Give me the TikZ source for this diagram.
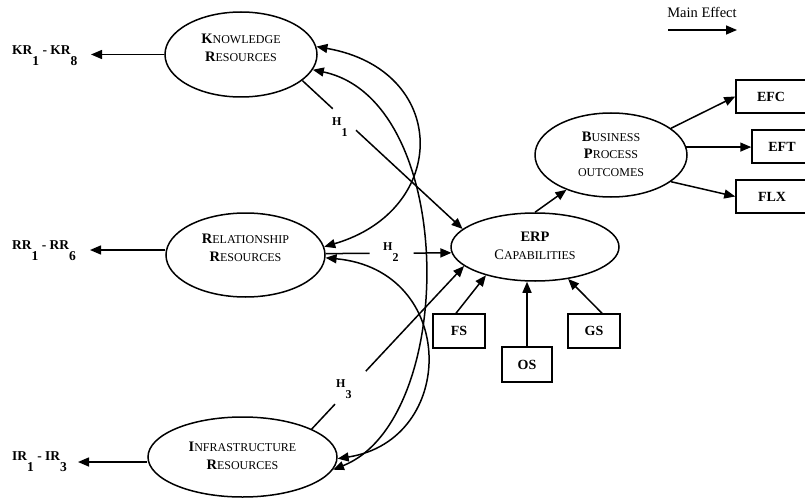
\documentclass[tikz,border=0pt]{standalone}
\usepackage{fontspec}
\setmainfont{Liberation Serif}
\usetikzlibrary{arrows.meta,calc,shapes.geometric}

\newcommand\inib[1]{{\fontsize{14.5}{18}\selectfont\bfseries #1}}
\newcommand\inir[1]{{\fontsize{14.5}{18}\selectfont #1}}
\newcommand\sbx[1]{\lower11pt\hbox{#1}}
\newcommand\twol[2]{\begin{tabular}{@{}c@{}}#1\\#2\end{tabular}}
\newcommand\threel[3]{\begin{tabular}{@{}c@{}}#1\\#2\\#3\end{tabular}}

\begin{document}
\begin{tikzpicture}[x=1pt,y=-1pt,
  ln/.style={line width=1.5pt},
  arr/.style={ln,-{Triangle[length=11pt,width=9pt]}},
  dbl/.style={ln,{Triangle[length=11pt,width=9pt]}-{Triangle[length=11pt,width=9pt]}},
  ell/.style={ellipse, draw, ln, inner sep=0pt, font=\fontsize{12}{18}\selectfont},
  box/.style={rectangle, draw, ln, inner sep=0pt, font=\fontsize{14}{16}\selectfont\bfseries},
  lab/.style={font=\fontsize{13.5}{15}\selectfont\bfseries, inner sep=0pt, anchor=base west},
  hlab/.style={font=\fontsize{12}{13}\selectfont\bfseries, inner sep=0pt, anchor=base west},
]
\useasboundingbox (0,0) rectangle (805,500);
\clip (0,0) rectangle (805,500);

% latent constructs
\node[ell, minimum width=152pt, minimum height=85pt] (kr) at (241,54.5)
  {\raisebox{6pt}[\height][\depth]{\twol{\inib{K}NOWLEDGE}{\inib{R}ESOURCES}}};
\node[ell, minimum width=159pt, minimum height=84pt] (rr) at (245.5,255)
  {\raisebox{6pt}[\height][\depth]{\twol{\inib{R}ELATIONSHIP}{\inib{R}ESOURCES}}};
\node[ell, minimum width=189pt, minimum height=80pt] (ir) at (242.5,457)
  {\twol{\inib{I}NFRASTRUCTURE}{\inib{R}ESOURCES}};
\node[ell, minimum width=168pt, minimum height=68pt] (erp) at (535,247)
  {\twol{\inib{ERP}}{\inir{C}APABILITIES}};
\node[ell, minimum width=152pt, minimum height=84pt, font=\fontsize{12}{17.5}\selectfont] (bpo) at (611,155)
  {\threel{\inib{B}USINESS}{\inib{P}ROCESS}{OUTCOMES}};

% boxes
\node[box, minimum width=70pt, minimum height=33pt] (efc) at (771,96.5) {EFC};
\node[box, minimum width=60pt, minimum height=33pt] (eft) at (782,146.5) {EFT};
\node[box, minimum width=72pt, minimum height=33pt] (flx) at (772,196.5) {FLX};
\node[box, minimum width=52pt, minimum height=34pt] (fs) at (459,331) {FS};
\node[box, minimum width=50pt, minimum height=35pt] (os) at (527,364.5) {OS};
\node[box, minimum width=52pt, minimum height=34pt] (gs) at (594,331) {GS};

% indicator labels
\node[lab] (krl) at (12,55) {KR\sbx{1} - KR\sbx{8}};
\node[lab] (rrl) at (12,249) {RR\sbx{1} - RR\sbx{6}};
\node[lab] (irl) at (12,460) {IR\sbx{1} - IR\sbx{3}};
\coordinate (krt) at (91,54.5);
\coordinate (rrt) at (90,250);
\coordinate (irt) at (78,462);
\draw[arr] (kr.west) -- (krt);
\draw[arr] (rr.west |- rrt) -- (rrt);
\draw[arr] (ir.west |- irt) -- (irt);

% hypothesis labels
\node[hlab] (h1) at (332,125) {H\sbx{1}};
\node[hlab] (h2) at (383,250) {H\sbx{2}};
\node[hlab] (h3) at (336,387) {H\sbx{3}};

% hypothesised paths
\draw[ln] (kr.-23) -- ($(kr.-23)!0.19!(erp.166)$);
\draw[arr] ($(kr.-23)!0.335!(erp.166)$) -- (erp.166);
\draw[ln] (rr.1) -- ($(rr.1)!0.35!(erp.184)$);
\draw[arr] ($(rr.1)!0.70!(erp.184)$) -- (erp.184);
\draw[ln] (ir.22) -- ($(ir.22)!0.153!(erp.195)$);
\draw[arr] ($(ir.22)!0.355!(erp.195)$) -- (erp.195);

% correlations
\draw[dbl] (kr.6) .. controls (450,70) and (450,210) .. (rr.6);
\draw[dbl] (kr.-12) .. controls (458,100) and (458,420) .. (ir.-8);
\draw[dbl] (rr.-2) .. controls (458,270) and (458,440) .. (ir.-1);

% other paths
\draw[arr] (erp.north) -- (bpo.218);
\draw[arr] (bpo.24) -- (efc.west);
\draw[arr] (bpo.6) -- (bpo.6 -| eft.west);
\draw[arr] (bpo.-24) -- (flx.west);
\draw[arr] ([xshift=-3pt]fs.north) -- (erp.210);
\draw[arr] (os.north) -- (os.north |- erp.south);
\draw[arr] ([xshift=8pt]gs.north) -- (erp.-44);

% legend
\node[font=\fontsize{14.5}{16}\selectfont, inner sep=0pt] (me) at (702,12) {Main Effect};
\coordinate (mea) at (668,30);
\coordinate (meb) at (737,30);
\draw[arr] (mea) -- (meb);
\end{tikzpicture}
\end{document}
